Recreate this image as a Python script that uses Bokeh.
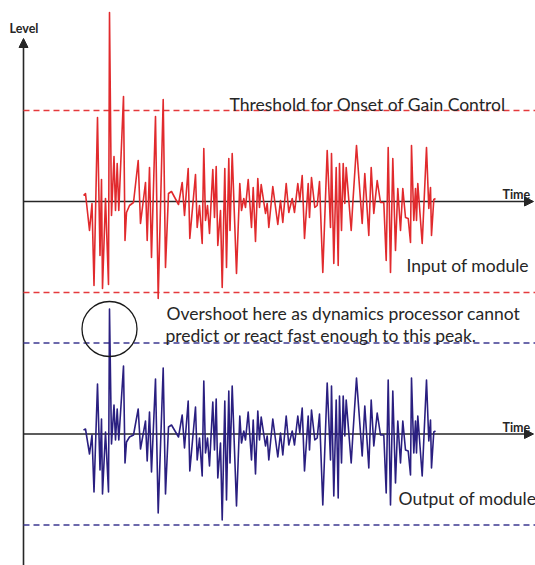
from bokeh.plotting import figure
from bokeh.models import Range1d, Arrow, NormalHead
from bokeh.embed import file_html
from bokeh.resources import INLINE
from bokeh.core.properties import value

# time (arbitrary units, origin at the level axis)
time = [60, 62, 66, 68.5, 70.5, 74, 76.5, 78, 79, 82, 85, 86, 88, 90.5, 92, 93.7, 95.3,
        100, 101.5, 103, 106, 110, 114.7, 117, 122, 123.7, 126, 128, 132, 134.7, 139.7,
        142, 145, 148, 155, 158.7, 161, 164.7, 166.3, 172, 173.7, 176, 178.7, 180.3, 182,
        184, 186, 189.3, 191, 192.7, 194.3, 197, 198.7, 201.3, 203, 205.3, 206.5, 208.7,
        213, 216.3, 218, 220.3, 222, 224.7, 228, 229.7, 232, 234.3, 236, 237.7, 242, 243.7,
        245.3, 249.3, 254.3, 257, 259.3, 262.7, 265.3, 268.7, 271, 274.3, 276.3, 278.7, 281,
        284.7, 286, 288, 291.3, 293.7, 296, 299.3, 303.7, 307, 308, 310.3, 312.7, 314.7, 316,
        318, 319.7, 321.3, 322.7, 327.7, 329.3, 333, 338.7, 341.3, 345.3, 347.7, 350.3, 353.7,
        357, 360.3, 362.7, 364.7, 367, 369.3, 372, 374.3, 377, 379.3, 382, 384.7, 387, 388,
        390.3, 392, 393, 394.3, 398.7, 403, 405.3, 407, 408, 410.3, 412]

# input of module (level units, gain-control threshold = 91)
input_level = [6, 8, -29, -2, -84, 84, -54, 22, -87, 3, -83, 189, -14, 45, -9, 38, -9,
               105, -39, -11, -4, -1, 41, -22, 19, -39, 34, -56, 85, -97, 102,
               -66, 8, 10, -3, 19, -14, 33, -37, 27, -26, -4, -42, 53, -19,
               -4, -32, 32, -16, 35, -44, -9, -86, 33, -66, 43, -29, 48,
               -72, 18, -9, 3, -6, 22, -26, 14, -40, 23, -6, 17, -12, -2,
               -26, 15, -23, 1, -21, 18, -11, 3, -11, 18, 1, 26, -37,
               18, -16, 24, -6, -4, 20, -71, 51, -26, 48, -62, 34, -64, 38,
               -29, 38, -2, 34, -29, -2, 56, -22, 28, -34, 34, -12, 21,
               -1, -1, -59, 54, -71, 43, -49, 13, -29, 13, -16, -17, -41, 56,
               -19, 13, -19, 18, -42, 54, -7, 14, -34, 2, 3]

# output of module (same level units)
output_level = [4, 5, -20, -1, -58, 50, -36, 15, -60, 2, -58, 125, -10, 29, -6, 25, -6,
                68, -29, -8, -3, -1, 25, -15, 13, -27, 22, -38, 55, -79, 66,
                -60, 7, 9, -3, 19, -14, 33, -37, 27, -26, -4, -42, 53, -19,
                -4, -32, 32, -16, 35, -44, -9, -86, 33, -66, 43, -29, 48,
                -72, 18, -9, 3, -6, 22, -26, 14, -40, 23, -6, 17, -12, -2,
                -26, 15, -23, 1, -21, 18, -11, 3, -11, 18, 1, 26, -37,
                18, -16, 24, -6, -4, 20, -71, 51, -26, 48, -62, 34, -64, 38,
                -29, 38, -2, 34, -29, -2, 56, -22, 28, -34, 34, -12, 21,
                -1, -1, -59, 54, -71, 43, -49, 13, -29, 13, -16, -17, -41, 56,
                -19, 13, -19, 18, -42, 54, -7, 14, -34, 2, 3]

threshold = 91
overshoot_time = 86
overshoot_level = 105

RED = "#e12a2d"
BLUE = "#2a1f80"
RED_DASH = "#e53a3c"
BLUE_DASH = "#3d3891"
INK = "#262626"
FONT = "Lato"

p = figure(width=535, height=565, output_backend="svg", toolbar_location=None,
           x_range=Range1d(-23, 512), y_range=Range1d(-364, 201),
           min_border=0, min_border_left=0, min_border_right=0,
           min_border_top=0, min_border_bottom=0)
p.extra_y_ranges = {"out": Range1d(-131.5, 433.5)}
p.xaxis.visible = False
p.yaxis.visible = False
p.grid.visible = False
p.outline_line_color = None
p.background_fill_color = "white"
p.border_fill_color = "white"

# axes with arrows
head = dict(size=9, fill_color=INK, line_color=INK, line_width=1)
p.add_layout(Arrow(end=NormalHead(**head), x_start=0, y_start=-370, x_end=0, y_end=163,
                   line_color=INK, line_width=1.6, level="underlay"))
p.add_layout(Arrow(end=NormalHead(**head), x_start=0, y_start=0, x_end=510, y_end=0,
                   line_color=INK, line_width=1.6, level="underlay"))
p.add_layout(Arrow(end=NormalHead(**head), x_start=0, y_start=0, x_end=510, y_end=0,
                   y_range_name="out", line_color=INK, line_width=1.6, level="underlay"))

# thresholds
for lv in (threshold, -threshold):
    p.line([0, 515], [lv, lv], line_color=RED_DASH, line_width=1.3, line_dash="6 4")
    p.line([0, 515], [lv, lv], line_color=BLUE_DASH, line_width=1.3, line_dash="6 4",
           y_range_name="out")

# waveforms
p.line(time, input_level, line_color=RED, line_width=1.6, line_join="round")
p.line(time, output_level, line_color=BLUE, line_width=1.6, line_join="round",
       y_range_name="out")

# overshoot circle
p.circle([overshoot_time], [overshoot_level], radius=27.5, fill_color=None,
         line_color="#1a1a1a", line_width=1.3, y_range_name="out")

# labels
bold = dict(text_font=value(FONT), text_font_size="12.5px", text_font_style="bold",
            text_color=INK, text_baseline="alphabetic")
p.text([0.5], [173], text=["Level"], text_align="center", **bold)
p.text([479], [7], text=["Time"], text_align="left", **bold)
p.text([479], [7], text=["Time"], text_align="left", y_range_name="out", **bold)

norm = dict(text_font=value(FONT), text_font_size="17.5px", text_color=INK,
            text_baseline="alphabetic")
p.text([206], [97], text=["Threshold for Onset of Gain Control"], **norm)
p.text([383], [-64], text=["Input of module"], **norm)
p.text([143], [121], text=["Overshoot here as dynamics processor cannot"],
       y_range_name="out", **norm)
p.text([142], [98.5], text=["predict or react fast enough to this peak."],
       y_range_name="out", **norm)
p.text([375], [-64.5], text=["Output of module"], y_range_name="out", **norm)

open("out.html", "w").write(file_html(p, INLINE))
